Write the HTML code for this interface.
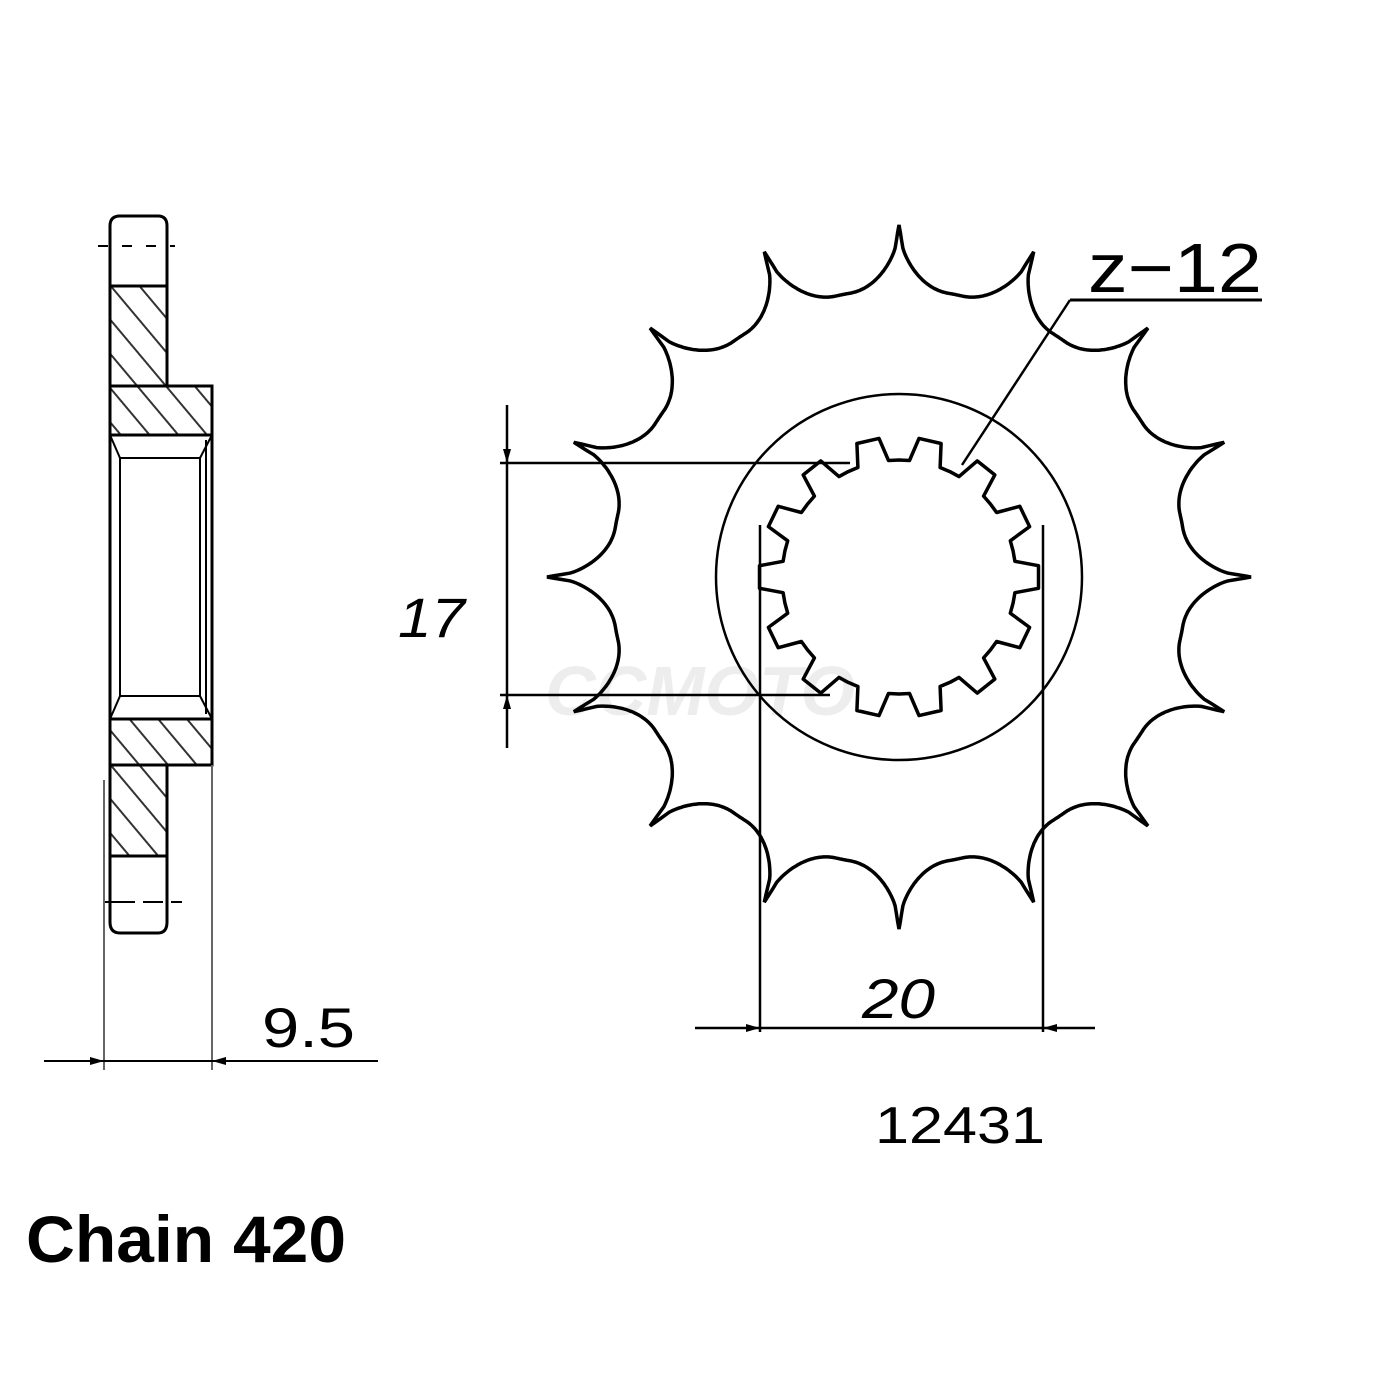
<!DOCTYPE html>
<html><head><meta charset="utf-8"><style>
html,body{margin:0;padding:0;background:#fff;}
svg{display:block;}
text{font-family:"Liberation Sans",sans-serif;fill:#000;}
</style></head><body>
<svg id="s" width="1400" height="1400" viewBox="0 0 1400 1400" xmlns="http://www.w3.org/2000/svg">
<defs>
<pattern id="h" width="22" height="22" patternUnits="userSpaceOnUse" patternTransform="rotate(-40)">
<line x1="0" y1="0" x2="0" y2="22" stroke="#333" stroke-width="2" transform="translate(11,0)"/>
</pattern>
</defs>
<text x="700" y="715" font-size="70" font-weight="bold" font-style="italic" text-anchor="middle" style="fill:#ededed">CCMOTO</text>

<g stroke="#000" stroke-width="3" fill="none">
<path d="M110 286 L110 226 Q110 216 120 216 L158 216 Q167 216 167 226 L167 286"/>
<path d="M110 856 L110 922 Q110 933 120 933 L158 933 Q167 933 167 922 L167 856"/>
<rect x="110" y="286" width="57" height="100" fill="url(#h)"/>
<rect x="110" y="765" width="57" height="91" fill="url(#h)"/>
<path d="M110 386 L212 386 L212 435 L110 435 Z" fill="url(#h)"/>
<path d="M110 719 L212 719 L212 765 L110 765 Z" fill="url(#h)"/>
<line x1="110" y1="286" x2="167" y2="286"/>
<line x1="110" y1="856" x2="167" y2="856"/>
<line x1="110" y1="286" x2="110" y2="856"/>
<line x1="212" y1="386" x2="212" y2="765"/>
<line x1="110" y1="435" x2="212" y2="435"/>
<line x1="110" y1="719" x2="212" y2="719"/>
<line x1="120" y1="458" x2="200" y2="458" stroke-width="2"/>
<line x1="120" y1="696" x2="200" y2="696" stroke-width="2"/>
<line x1="120" y1="458" x2="120" y2="696" stroke-width="2"/>
<line x1="200" y1="458" x2="200" y2="696" stroke-width="2"/>
<line x1="206" y1="440" x2="206" y2="714" stroke-width="2"/>
<line x1="110" y1="435" x2="120" y2="458" stroke-width="2"/>
<line x1="212" y1="435" x2="200" y2="458" stroke-width="2"/>
<line x1="110" y1="719" x2="120" y2="696" stroke-width="2"/>
<line x1="212" y1="719" x2="200" y2="696" stroke-width="2"/>
</g>
<g stroke="#000" stroke-width="2">
<line x1="98" y1="246" x2="175" y2="246" stroke-dasharray="10 14"/>
<line x1="105" y1="902" x2="182" y2="902" stroke-dasharray="30 8 20 8"/>
<line x1="104" y1="780" x2="104" y2="1070" stroke="#666"/>
<line x1="212" y1="765" x2="212" y2="1070" stroke="#666"/>
<line x1="44" y1="1061" x2="378" y2="1061"/>
</g>
<path d="M104 1061 l-14 -4 v8 Z M212 1061 l14 -4 v8 Z" fill="#000"/>
<text x="262" y="1047" font-size="56" textLength="93" lengthAdjust="spacingAndGlyphs">9.5</text>

<g id="gear" stroke="#000" stroke-width="3.5" fill="none"></g>
<g stroke="#000" stroke-width="2.5" fill="none">
<circle cx="899" cy="577" r="183"/>
<line x1="500" y1="463" x2="850" y2="463"/>
<line x1="500" y1="695" x2="830" y2="695"/>
<line x1="507" y1="405" x2="507" y2="748"/>
<line x1="760" y1="525" x2="760" y2="1032"/>
<line x1="1043" y1="525" x2="1043" y2="1032"/>
<line x1="695" y1="1028" x2="1095" y2="1028"/>
<line x1="1070" y1="300" x2="1262" y2="300" stroke-width="3"/>
<line x1="1070" y1="300" x2="962" y2="465"/>
</g>
<path d="M507 463 l-4 -14 h8 Z M507 695 l-4 14 h8 Z M760 1028 l-14 -4 v8 Z M1043 1028 l14 -4 v8 Z" fill="#000"/>
<text x="398" y="637" font-size="56" font-style="italic" textLength="67" lengthAdjust="spacingAndGlyphs">17</text>
<text x="862" y="1018" font-size="56" font-style="italic" textLength="73" lengthAdjust="spacingAndGlyphs">20</text>
<text x="1088" y="292" font-size="70" textLength="174" lengthAdjust="spacingAndGlyphs">z−12</text>
<text x="875" y="1143" font-size="52" textLength="170" lengthAdjust="spacingAndGlyphs">12431</text>
<text x="26" y="1262" font-size="66" font-weight="bold" textLength="320" lengthAdjust="spacingAndGlyphs">Chain 420</text>
</svg>
<script>
(function(){
var cx=899,cy=577,g=document.getElementById('gear');
var N=16,Rt=352,Rr=288,H=Rt-Rr,pts=[];
for(var i=0;i<=1600;i++){
 var t=i/1600*N; var k=Math.floor(t); var phi=t-k;
 var d=Math.min(phi,1-phi)*2;
 var u=Math.max(0,1-d*1.15);
 var r;
 if(u>=0.93) r=Rr+H*(1-Math.sqrt(1-0.93*0.93))+ (Rt-(Rr+H*(1-Math.sqrt(1-0.93*0.93))))*((u-0.93)/0.07);
 else r=Rr+H*(1-Math.sqrt(1-u*u));
 var a=-Math.PI/2+t*2*Math.PI/N;
 pts.push((cx+r*Math.cos(a)).toFixed(1)+','+(cy+r*Math.sin(a)).toFixed(1));
}
var p=document.createElementNS('http://www.w3.org/2000/svg','polygon');
p.setAttribute('points',pts.join(' '));g.appendChild(p);
var M=14,Ro=140,Ri=117,sp=[];
for(var j=0;j<M;j++){
 var base=-Math.PI/2+j*2*Math.PI/M, pt=2*Math.PI/M;
 var seq=[[0,Ri],[0.2,Ri],[0.32,Ro],[0.68,Ro],[0.8,Ri],[1,Ri]];
 seq.forEach(function(s){var a=base+s[0]*pt;sp.push((cx+s[1]*Math.cos(a)).toFixed(1)+','+(cy+s[1]*Math.sin(a)).toFixed(1));});
}
var q=document.createElementNS('http://www.w3.org/2000/svg','polygon');
q.setAttribute('points',sp.join(' '));q.setAttribute('stroke-linejoin','round');g.appendChild(q);
})();
</script>
</body></html>
